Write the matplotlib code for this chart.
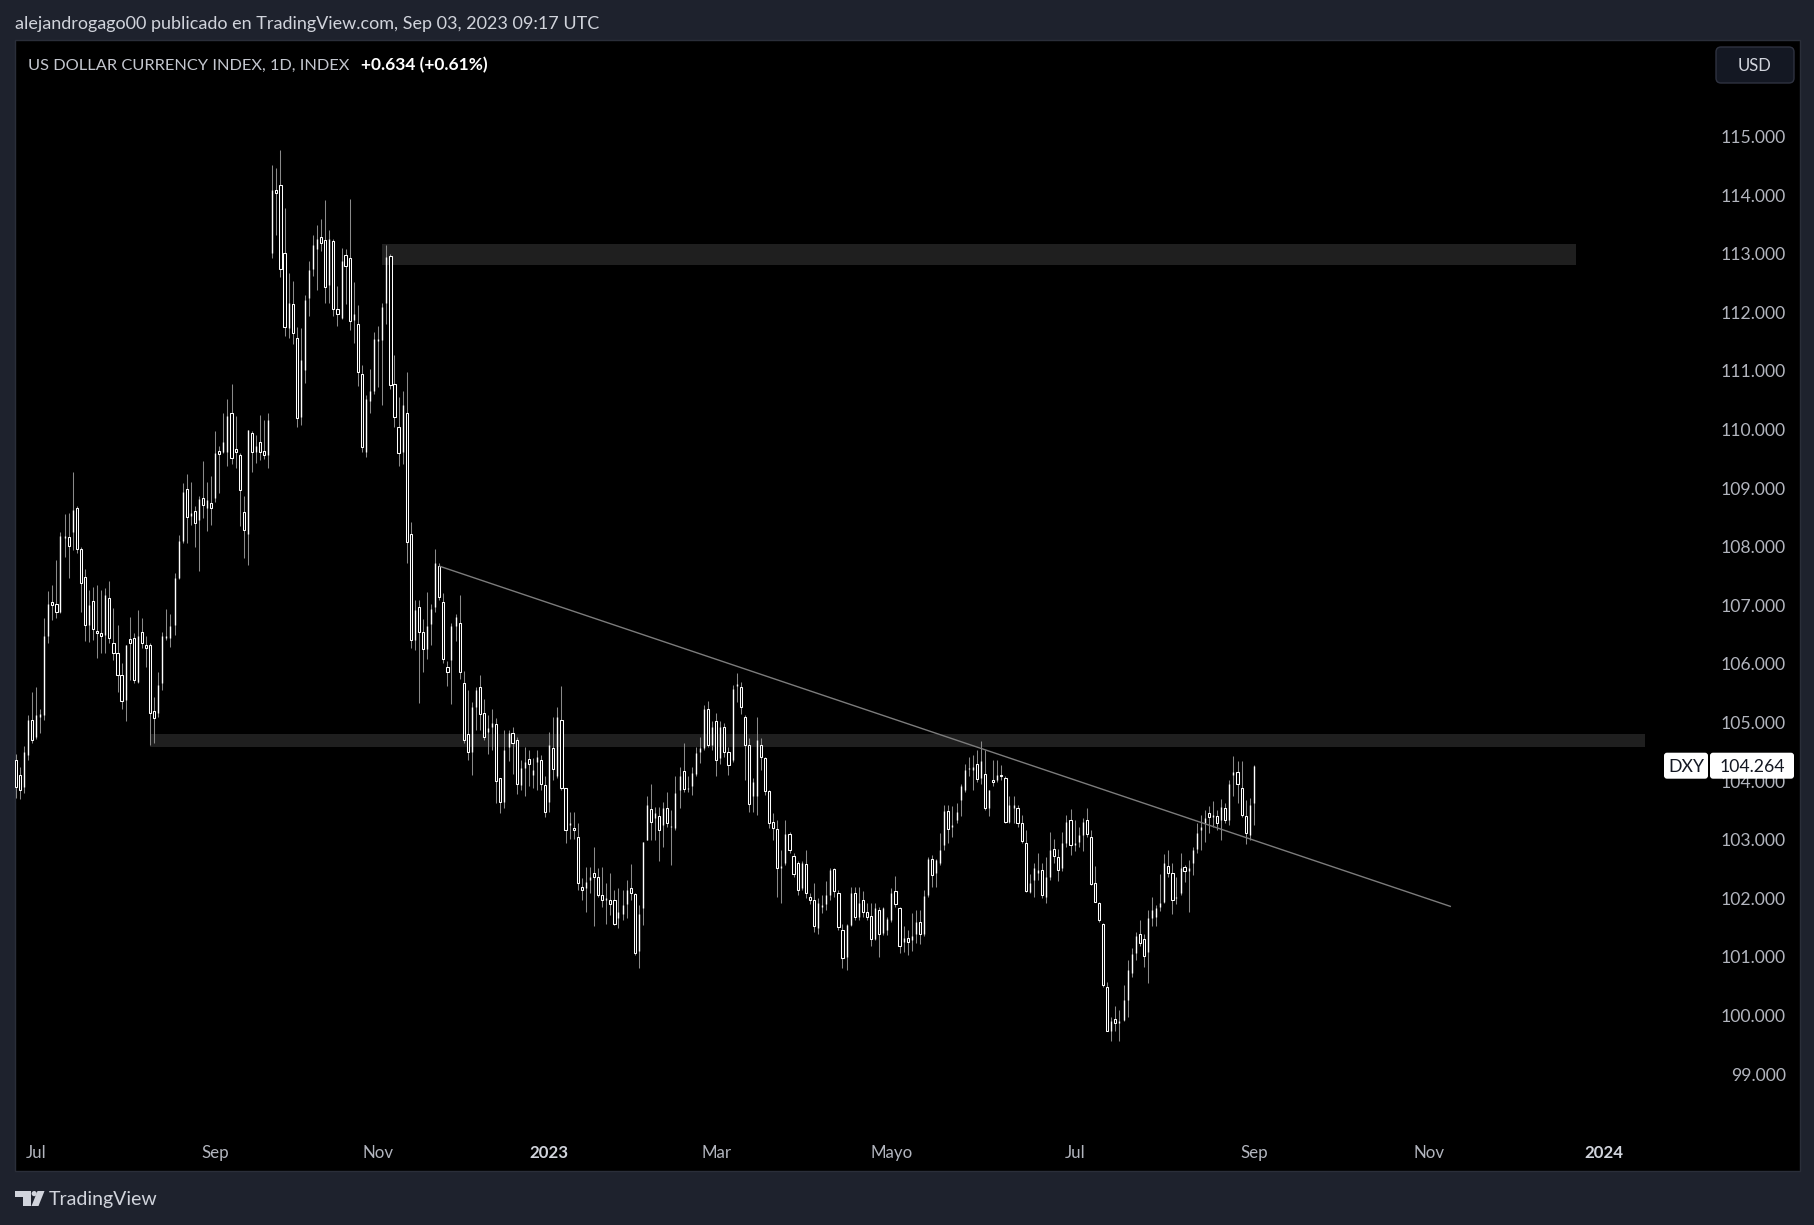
import numpy as np
import matplotlib
matplotlib.use("Agg")
import matplotlib.pyplot as plt
from matplotlib.patches import Rectangle, FancyBboxPatch, Polygon, Circle
import matplotlib.transforms as mtransforms

W, H = 1815, 1225
plt.rcParams['font.family'] = ['Lato', 'DejaVu Sans']

# ---------------- data (daily OHLC) ----------------
opens = [104.36,104.10,103.90,104.45,105.04,104.76,105.10,105.13,106.48,107.05,
         107.03,106.88,108.15,108.16,108.25,108.66,107.97,107.48,106.66,107.07,
         106.57,106.52,106.49,107.12,106.35,106.18,105.81,105.38,106.42,106.45,
         105.70,106.55,106.32,106.32,105.19,105.16,105.67,106.45,106.45,106.66,
         107.46,108.09,108.98,108.52,108.61,108.46,108.83,108.67,108.74,108.83,
         109.63,109.62,109.61,110.29,109.66,109.56,108.59,108.22,109.95,109.61,
         109.78,109.63,109.57,113.01,114.09,114.17,113.01,111.73,112.15,111.57,
         110.22,111.02,112.24,112.74,113.08,113.29,113.24,112.47,113.22,112.05,
         111.90,112.98,112.92,111.87,111.80,110.94,109.62,110.48,110.65,111.51,
         111.53,112.16,112.96,110.77,110.04,109.62,110.28,108.21,106.41,106.98,
         106.55,106.25,106.69,106.98,107.67,107.05,105.95,106.06,106.64,106.70,
         105.67,104.80,104.50,105.27,105.61,105.17,104.84,104.93,104.97,104.05,
         103.65,104.59,104.82,104.71,103.93,104.22,104.37,104.10,104.33,104.36,
         103.93,103.65,104.56,104.08,105.04,103.89,103.25,103.20,103.04,102.20,
         102.17,102.31,102.44,102.37,102.06,101.98,101.97,101.98,101.66,101.74,
         101.91,102.17,102.07,101.10,101.83,102.99,103.52,103.37,103.41,103.25,
         103.55,103.21,103.20,103.85,104.18,103.86,103.91,104.13,104.50,104.56,
         105.24,104.62,105.02,104.39,104.92,104.50,104.36,105.63,105.60,105.10,
         104.61,103.74,103.74,104.61,104.40,103.84,103.30,103.18,102.51,102.60,
         103.09,102.73,102.60,102.17,102.58,102.03,101.98,101.49,101.86,101.91,
         102.05,102.50,102.10,101.46,101.00,101.55,102.09,101.69,101.97,101.77,
         101.70,101.30,101.80,101.41,101.46,101.63,102.13,101.84,101.26,101.32,
         101.29,101.40,101.60,101.39,102.06,102.68,102.43,102.60,102.91,103.49,
         103.22,103.34,103.68,103.85,104.20,104.19,104.29,104.05,104.13,103.54,
         104.02,104.02,104.11,104.05,103.31,103.54,103.55,103.28,102.94,102.11,
         102.32,102.43,102.48,102.03,102.37,102.84,102.71,102.51,102.94,103.34,
         102.91,102.97,103.08,103.34,103.05,102.27,101.92,101.57,100.49,99.73,
         99.94,99.87,99.92,100.27,100.72,101.06,101.40,101.30,101.09,101.66,
         101.69,101.86,101.94,102.56,102.43,102.00,102.09,102.53,102.46,102.61,
         102.85,103.17,103.28,103.45,103.39,103.41,103.34,103.55,103.34,104.11,
         104.16,103.89,103.41,103.08,103.63]
highs = [104.47,104.25,104.60,105.13,105.53,105.61,105.23,106.78,107.24,107.35,
         107.77,108.26,108.56,108.57,109.27,108.70,108.00,107.62,107.27,107.32,
         107.35,107.26,107.29,107.42,106.95,106.66,106.01,106.32,106.81,106.52,
         106.92,106.78,106.47,106.35,105.44,105.87,106.55,106.94,106.86,107.55,
         108.20,109.08,109.25,109.11,108.69,108.86,109.47,109.11,109.20,109.98,
         109.72,110.28,110.53,110.78,110.24,109.60,108.86,110.00,109.97,109.91,
         110.25,110.16,110.28,114.52,114.46,114.77,113.78,112.67,112.54,111.75,
         111.73,112.30,112.88,113.32,113.49,113.59,113.92,113.41,113.25,112.45,
         113.09,113.08,113.94,112.51,112.13,111.11,110.59,111.03,111.67,111.77,
         112.16,113.15,113.00,111.27,110.56,110.65,110.98,108.42,107.09,107.09,
         106.76,107.23,107.02,107.97,107.73,107.21,106.05,106.70,106.86,107.18,
         105.88,105.56,105.35,105.60,105.81,105.41,105.13,105.24,105.07,104.05,
         104.87,104.87,104.93,104.76,104.36,104.59,104.53,104.39,104.54,104.45,
         104.08,104.84,105.10,105.27,105.62,103.89,103.48,103.48,103.28,102.34,
         102.54,102.54,102.88,102.51,102.54,102.26,102.43,102.14,102.17,102.14,
         102.31,102.59,102.09,101.89,102.97,103.75,103.96,103.56,103.56,103.65,
         103.82,103.51,104.08,104.25,104.65,104.08,104.25,104.59,104.76,105.30,
         105.36,105.02,105.16,105.02,104.99,104.59,105.64,105.85,105.70,105.13,
         104.73,104.05,105.09,104.73,104.42,103.85,103.45,103.34,102.83,103.34,
         103.14,102.77,102.63,102.63,102.83,102.10,102.26,102.00,102.06,102.29,
         102.52,102.52,102.14,101.57,101.57,102.20,102.20,102.20,102.12,101.92,
         101.92,101.92,101.86,101.86,101.69,102.17,102.38,101.86,101.52,101.46,
         101.75,101.81,101.81,102.15,102.71,102.74,102.68,103.12,103.60,103.60,
         103.57,103.62,103.96,104.30,104.42,104.45,104.53,104.69,104.53,103.85,
         104.36,104.36,104.28,104.08,103.74,103.74,103.59,103.42,103.17,102.42,
         102.60,102.77,102.60,102.71,103.14,103.02,102.85,103.14,103.42,103.52,
         103.34,103.22,103.37,103.55,103.17,102.55,101.94,101.58,100.58,99.98,
         100.16,100.09,100.52,100.95,101.16,101.43,101.63,101.40,101.81,102.03,
         101.89,102.42,102.76,102.83,102.61,102.37,102.77,102.57,102.65,102.88,
         103.28,103.42,103.51,103.58,103.67,103.51,103.70,103.62,104.02,104.43,
         104.34,104.34,103.68,103.72,104.28]
lows = [103.72,103.70,103.80,104.36,104.65,104.72,104.82,105.04,106.35,106.75,
        106.79,106.87,107.83,107.47,107.95,107.90,106.89,106.39,106.38,106.41,
        106.11,106.18,106.18,106.36,106.07,105.53,105.24,105.03,105.73,105.67,
        105.68,106.27,105.95,104.62,104.65,105.10,105.56,106.41,106.29,106.49,
        107.45,108.06,108.07,108.37,107.99,107.58,108.49,108.27,108.37,108.77,
        108.92,109.60,109.37,109.42,109.34,108.36,107.80,107.69,109.27,109.43,
        109.48,109.49,109.35,112.92,113.32,112.60,111.59,111.56,111.46,110.05,
        110.08,110.79,111.94,112.62,112.39,113.05,112.16,112.16,111.93,111.77,
        111.88,112.15,111.70,111.47,110.75,109.62,109.54,110.28,110.60,110.72,
        110.42,111.81,110.70,110.05,109.37,109.42,107.72,106.28,106.24,105.34,
        105.87,106.08,106.32,106.89,107.09,106.02,105.62,105.31,106.40,105.75,
        104.65,104.36,104.10,104.87,104.88,104.70,104.47,104.53,103.62,103.45,
        103.54,104.35,104.13,103.78,103.85,103.74,103.91,103.88,103.85,103.85,
        103.38,103.48,104.02,104.05,103.85,102.94,103.02,103.02,102.14,101.97,
        101.76,102.09,101.52,102.03,101.86,101.57,101.72,101.55,101.49,101.63,
        101.66,101.97,101.03,100.81,101.55,102.99,102.99,102.99,102.63,102.88,
        103.22,102.57,103.17,103.54,103.82,103.82,103.77,104.08,104.31,104.53,
        104.59,104.53,104.08,104.30,104.42,104.11,104.33,105.35,105.14,104.02,
        103.48,103.48,103.42,104.19,103.77,103.20,103.00,102.03,101.92,102.57,
        102.77,102.37,102.06,102.14,102.00,101.90,101.43,101.40,101.75,101.80,
        101.98,102.03,101.46,100.81,100.78,101.52,101.63,101.63,101.69,101.63,
        101.18,101.29,101.00,101.38,101.38,101.60,101.86,101.06,101.09,101.03,
        101.10,101.23,101.22,101.35,102.03,102.20,102.20,102.57,102.83,102.95,
        103.05,103.28,103.40,103.82,104.08,103.85,103.99,103.95,103.51,103.40,
        103.91,103.99,104.02,103.28,103.28,103.28,103.22,102.94,102.11,102.09,
        102.03,102.31,102.00,101.92,102.31,102.60,102.30,102.46,102.88,102.74,
        102.80,102.88,102.80,103.05,102.23,101.93,101.60,100.49,99.73,99.57,
        99.73,99.57,99.90,99.98,100.66,100.95,101.18,100.83,100.55,101.52,
        101.52,101.78,101.92,102.37,101.74,101.90,102.06,102.28,101.77,102.40,
        102.77,102.83,102.97,103.11,103.22,103.17,102.99,103.28,103.25,103.74,
        103.62,103.39,102.93,102.99,103.25]
closes = [103.90,103.85,104.50,105.04,104.71,105.13,105.15,106.47,107.02,107.01,
          106.88,108.18,108.16,108.01,108.62,107.97,107.39,106.66,107.01,106.59,
          106.52,106.47,107.18,106.44,106.18,105.81,105.37,106.32,106.35,105.73,
          106.47,106.35,106.28,105.17,105.07,105.64,106.47,106.46,106.64,107.46,
          108.09,108.93,108.50,108.58,108.40,108.81,108.72,108.80,108.67,109.60,
          109.59,109.78,110.24,109.51,109.62,108.97,108.29,110.00,109.61,109.72,
          109.62,109.57,110.16,114.09,114.04,112.74,111.75,112.16,111.64,110.19,
          111.19,112.21,112.72,113.15,113.25,113.19,112.44,113.26,112.05,111.98,
          112.87,112.79,111.86,111.98,110.99,109.71,110.53,110.65,111.54,111.54,
          112.10,112.95,110.76,110.21,109.60,110.42,108.08,106.41,106.92,106.55,
          106.25,106.65,106.93,107.73,107.14,106.08,105.86,106.64,106.80,105.86,
          104.71,104.49,105.27,105.56,105.15,104.76,104.90,104.99,104.00,103.64,
          104.54,104.82,104.65,103.95,104.22,104.33,104.30,104.19,104.42,103.96,
          103.47,104.62,104.20,105.10,103.89,103.17,103.28,103.16,102.27,102.14,
          102.28,102.37,102.37,102.06,101.97,102.01,101.90,101.57,101.77,101.89,
          102.14,102.09,101.06,101.73,102.97,103.59,103.31,103.45,103.17,103.54,
          103.28,103.23,103.79,104.08,103.86,103.88,104.14,104.48,104.56,105.24,
          104.61,104.93,104.36,104.93,104.50,104.28,105.58,105.66,105.26,104.61,
          103.61,103.99,104.71,104.42,103.84,103.28,103.20,102.51,102.55,103.09,
          102.83,102.42,102.15,102.60,102.10,101.98,101.53,101.92,101.89,102.06,
          102.48,102.12,101.51,100.98,101.55,102.09,101.69,101.92,101.77,101.69,
          101.30,101.83,101.40,101.83,101.64,102.09,101.90,101.19,101.32,101.26,
          101.36,101.60,101.39,102.04,102.68,102.40,102.65,102.83,103.49,103.18,
          103.26,103.48,103.91,104.19,104.22,104.25,104.03,104.35,103.54,103.85,
          103.98,104.10,104.09,103.30,103.59,103.59,103.28,102.98,102.13,102.26,
          102.51,102.48,102.06,102.37,102.83,102.73,102.48,102.94,103.31,102.91,
          102.94,103.08,103.31,103.09,102.25,101.94,101.63,100.53,99.73,99.90,
          99.87,99.90,100.26,100.77,101.05,101.35,101.24,101.01,101.66,101.81,
          101.83,101.92,102.60,102.44,101.98,102.03,102.51,102.46,102.51,102.83,
          103.11,103.22,103.37,103.39,103.42,103.29,103.56,103.33,103.96,104.16,
          103.96,103.42,103.12,103.59,104.264]

month_idx = [5, 49, 89, 131, 172, 215, 260, 304, 347, 390]
month_labels = ['Jul', 'Sep', 'Nov', '2023', 'Mar', 'Mayo', 'Jul', 'Sep', 'Nov', '2024']
price_ticks = list(range(99, 116))

zone_start = [90, 33]
zone_end = [383, 400]
zone_low = [112.80, 104.58]
zone_high = [113.16, 104.81]

trend_x = [104, 352.4]
trend_y = [107.67, 101.86]

symbol = 'DXY'
title = 'US DOLLAR CURRENCY INDEX, 1D, INDEX'
change_txt = '+0.634 (+0.61%)'
header = 'alejandrogago00 publicado en TradingView.com, Sep 03, 2023 09:17 UTC'

# ---------------- figure ----------------
BG = '#1e222d'
fig = plt.figure(figsize=(W / 100, H / 100), dpi=100, facecolor=BG)
# pixel transform (origin top-left)
px = mtransforms.Affine2D().scale(1 / 100, -1 / 100).translate(0, H / 100) + fig.dpi_scale_trans

pane = Rectangle((15, 40), 1785, 1131, transform=px, facecolor='#000000',
                 edgecolor='#2a2e39', lw=1.0, zorder=-10)
fig.add_artist(pane)

ax_l, ax_r, ax_t, ax_b = 15, 1710, 40, 1133
ax = fig.add_axes([ax_l / W, 1 - ax_b / H, (ax_r - ax_l) / W, (ax_b - ax_t) / H])
ax.set_facecolor('none')
for s in ax.spines.values():
    s.set_visible(False)
ax.set_xlim(-0.17, 416.0)
ax.set_ylim(97.996, 116.648)

o = np.array(opens); h = np.array(highs); l = np.array(lows); c = np.array(closes)
x = np.arange(len(c))
up = c >= o

# zones
for s0, e0, lo, hi in zip(zone_start, zone_end, zone_low, zone_high):
    ax.add_patch(Rectangle((s0, lo), e0 - s0, hi - lo, facecolor='#1f1f1f',
                           edgecolor='none', zorder=1))

# wicks
ax.vlines(x, l, h, color='#8a8a8a', lw=0.75, zorder=2)
# down candles: hollow
ax.bar(x[~up], (o - c)[~up], bottom=c[~up], width=0.55, facecolor='#000000',
       edgecolor='#ffffff', linewidth=0.75, zorder=3)
# up candles: thin filled
top = np.maximum(c, o + 0.03)
ax.vlines(x[up], o[up], top[up], color='#ffffff', lw=1.0, zorder=3)

# trend line
ax.plot(trend_x, trend_y, color='#7c7c7c', lw=1.0, zorder=4, solid_capstyle='butt')

# y axis (right)
ax.yaxis.tick_right()
ax.set_yticks(price_ticks)
ax.set_yticklabels([f'{p:.3f}' for p in price_ticks])
ax.tick_params(axis='y', length=0, pad=(1786 - ax_r) * 0.72, labelsize=12.7,
               labelcolor='#b2b5be')
for t in ax.get_yticklabels():
    t.set_ha('right')

# x axis
ax.set_xticks(month_idx)
ax.set_xticklabels(month_labels)
ax.tick_params(axis='x', length=0, pad=8.5, labelsize=12.2, labelcolor='#b2b5be')
for t, lab in zip(ax.get_xticklabels(), month_labels):
    if lab.isdigit():
        t.set_color('#d1d4dc')
        t.set_fontweight('bold')

# ---------------- texts ----------------
fig.text(15 / W, 1 - 24.5 / H, header, color='#d1d4dc', fontsize=13, va='center', ha='left')
fig.text(28 / W, 1 - 65.5 / H, title, color='#c3c6ce', fontsize=11.8, va='center', ha='left')
fig.text(361 / W, 1 - 65.5 / H, change_txt, color='#ffffff', fontsize=12.5,
         fontweight='bold', va='center', ha='left')

# USD button
fig.add_artist(FancyBboxPatch((1716, 47), 78, 36, boxstyle='round,pad=0,rounding_size=5',
                              transform=px, facecolor='#141823', edgecolor='#2e3240', lw=1.0))
fig.text(1755 / W, 1 - 66 / H, 'USD', color='#d1d4dc', fontsize=12, ha='center', va='center')

# last price label
ydisp = ax.transData.transform((0, c[-1]))[1]
ypx = H - ydisp * 100 / fig.dpi
fig.add_artist(FancyBboxPatch((1664, ypx - 13), 44, 26, boxstyle='round,pad=0,rounding_size=3',
                              transform=px, facecolor='#ffffff', edgecolor='none', zorder=5))
fig.add_artist(FancyBboxPatch((1710, ypx - 13), 84, 26, boxstyle='round,pad=0,rounding_size=3',
                              transform=px, facecolor='#ffffff', edgecolor='none', zorder=5))
fig.text(1686 / W, 1 - (ypx + 1) / H, symbol, color='#131722', fontsize=12.7, ha='center',
         va='center', zorder=6)
fig.text(1752 / W, 1 - (ypx + 1) / H, f'{c[-1]:.3f}', color='#131722', fontsize=12.7, ha='center',
         va='center', zorder=6)

# footer logo
logo_col = '#d1d4dc'
fig.add_artist(Polygon([(15, 1191), (30.7, 1191), (30.7, 1206), (22.7, 1206), (22.7, 1196.5),
                        (15, 1196.5)], closed=True, transform=px, facecolor=logo_col,
                       edgecolor='none'))
fig.add_artist(Circle((34.2, 1193.6), 2.6, transform=px, facecolor=logo_col, edgecolor='none'))
fig.add_artist(Polygon([(37.5, 1191), (44.5, 1191), (38.5, 1206), (31.5, 1206)], closed=True,
                       transform=px, facecolor=logo_col, edgecolor='none'))
fig.text(49 / W, 1 - 1200 / H, 'TradingView', color=logo_col, fontsize=14, ha='left',
         va='center')

fig.savefig('out.png', dpi=100, facecolor=BG)
